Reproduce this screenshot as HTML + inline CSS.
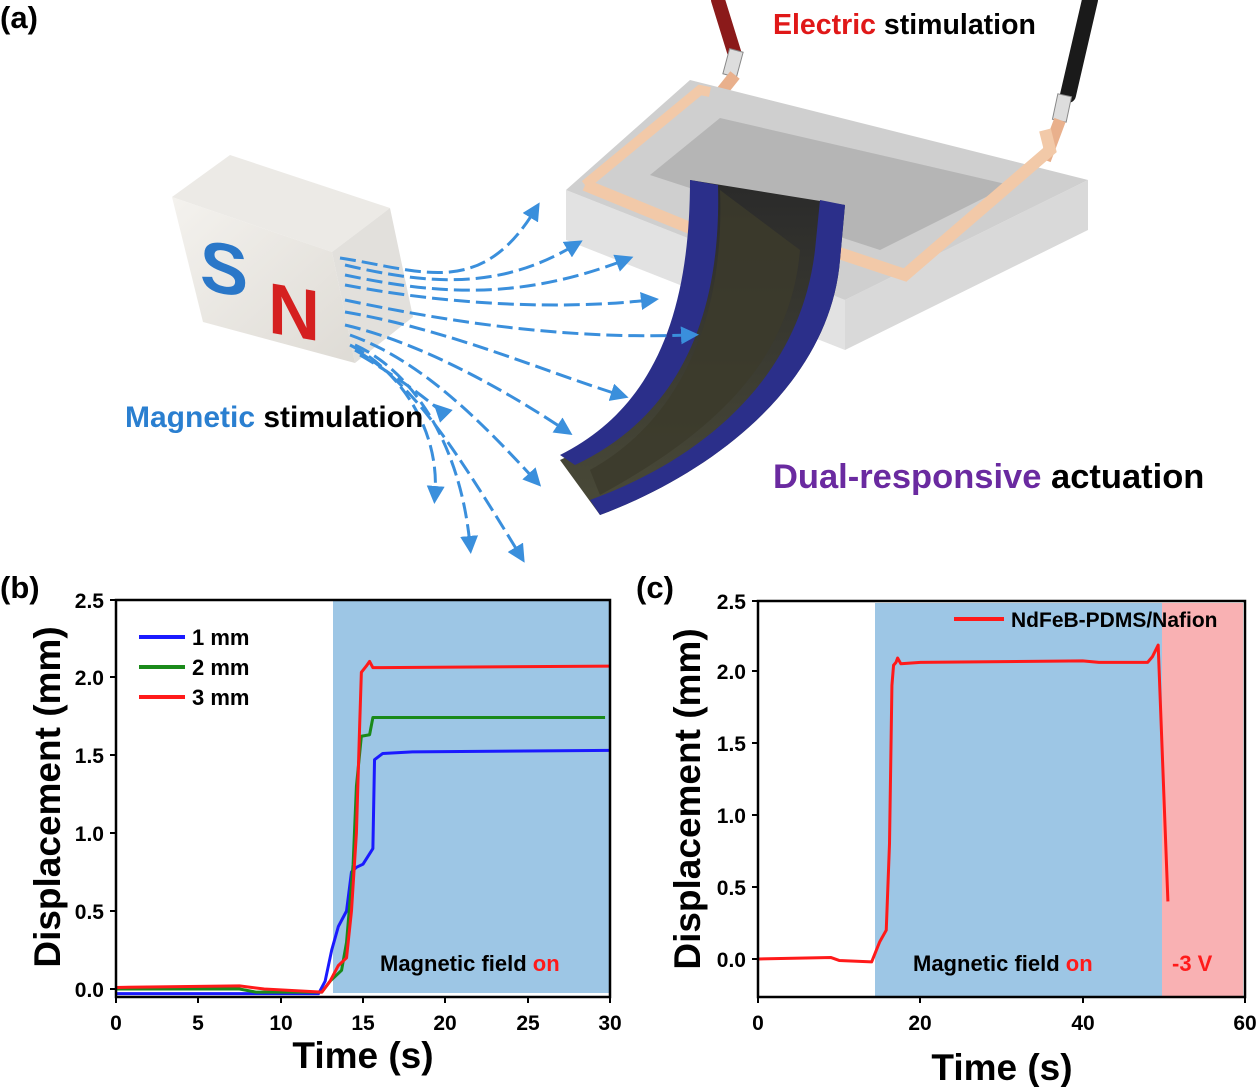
<!DOCTYPE html>
<html><head><meta charset="utf-8"><style>
html,body{margin:0;padding:0;background:#fff}
svg{display:block;font-family:"Liberation Sans",Arial,sans-serif;font-weight:bold}
</style></head><body>
<svg width="1260" height="1087" viewBox="0 0 1260 1087" xmlns="http://www.w3.org/2000/svg">
<defs>
<marker id="ah" markerWidth="6" markerHeight="6" refX="3" refY="3" orient="auto"><path d="M0,0L6,3L0,6z" fill="#3a8fdc"/></marker>
<linearGradient id="mg" x1="0" y1="0" x2="1" y2="1"><stop offset="0" stop-color="#f4f2ee"/><stop offset="1" stop-color="#dedbd5"/></linearGradient>
<linearGradient id="act" x1="0" y1="0" x2="0" y2="1"><stop offset="0" stop-color="#2a2a2a"/><stop offset="1" stop-color="#4a4a38"/></linearGradient>
</defs>
<text x="0" y="28" font-size="31">(a)</text>

<!-- wires -->
<path d="M718,0 L735,55" stroke="#8b1a1a" stroke-width="14" stroke-linecap="round"/>
<rect x="726" y="50" width="14" height="26" fill="#ddd" stroke="#888" transform="rotate(15 733 63)"/>
<path d="M735,75 L715,100" stroke="#e9b08c" stroke-width="12"/>
<path d="M1090,0 L1068,95" stroke="#1a1a1a" stroke-width="16" stroke-linecap="round"/>
<rect x="1055" y="95" width="14" height="26" fill="#ddd" stroke="#888" transform="rotate(12 1062 108)"/>
<path d="M1060,120 L1045,160" stroke="#e9b08c" stroke-width="12"/>

<!-- frame -->
<polygon points="566,190 845,300 845,350 566,240" fill="#e2e2e2"/>
<polygon points="845,300 1088,180 1088,230 845,350" fill="#d9d9d9"/>
<polygon points="566,190 690,80 1088,180 845,300" fill="#cfcfcf"/>
<polygon points="650,175 720,118 1010,185 880,250" fill="#b5b5b5"/>
<polyline points="585,185 700,90 710,92" fill="none" stroke="#f2c9a8" stroke-width="10"/>
<polyline points="585,185 690,228" fill="none" stroke="#f2c9a8" stroke-width="12"/>
<polyline points="830,250 905,275 1050,150 1045,130" fill="none" stroke="#f2c9a8" stroke-width="12"/>

<!-- actuator -->
<path d="M690,180 L845,205 L840,260 C830,380 720,470 600,515 L560,460 C650,420 690,330 700,250 Z" fill="url(#act)"/>
<path d="M690,180 L718,185 C722,330 670,420 575,465 L560,455 C650,410 690,320 690,180 Z" fill="#2b2f8a"/>
<path d="M820,200 L845,205 L840,260 C830,380 720,470 600,515 L590,500 C700,460 800,380 815,250 Z" fill="#2b2f8a"/>
<path d="M720,190 C725,320 680,420 590,470 L600,495 C700,440 790,370 800,250 Z" fill="#3c3b2c" opacity="0.85"/>

<!-- magnet -->
<polygon points="172,197 230,155 390,208 332,252" fill="#eceae6"/>
<polygon points="332,252 390,208 413,317 355,363" fill="#e2e0dc"/>
<polygon points="172,197 332,252 355,363 203,322" fill="url(#mg)"/>
<text x="200" y="292" font-size="72" fill="#2a77c8" transform="skewY(10) translate(0,-38)">S</text>
<text x="268" y="335" font-size="72" fill="#d52020" transform="skewY(10) translate(0,-50)">N</text>

<!-- field arrows -->
<g fill="none" stroke="#3a8fdc" stroke-width="3" stroke-dasharray="16 6" marker-mid="url(#ah)" marker-end="url(#ah)">
<path d="M340,258 C420,270 480,300 535,210"/>
<path d="M345,265 C430,285 500,290 575,245"/>
<path d="M345,275 C440,295 520,300 625,260"/>
<path d="M345,285 C450,305 560,310 650,300"/>
<path d="M345,300 C440,320 560,340 690,335"/>
<path d="M345,312 C450,330 540,370 620,395"/>
<path d="M345,325 C430,345 520,400 565,430"/>
<path d="M350,335 C420,360 480,420 535,480"/>
<path d="M355,345 C410,370 460,440 470,545"/>
<path d="M355,350 C410,380 450,440 520,555"/>
<path d="M350,345 C400,370 440,430 435,495"/>
<path d="M360,355 C420,390 450,420 440,410"/>
</g>

<text x="773" y="34" font-size="28.5"><tspan fill="#e01818">Electric</tspan> stimulation</text>
<text x="125" y="427" font-size="30"><tspan fill="#2a7fd0">Magnetic</tspan> stimulation</text>
<text x="773" y="488" font-size="34.5"><tspan fill="#6a2aa0">Dual-responsive</tspan> actuation</text>

<!-- (b) plot -->
<text x="0" y="598" font-size="31">(b)</text>
<rect x="333" y="601" width="276" height="392" fill="#9dc6e5"/>
<g transform="translate(116,989) scale(16.467,-156)" fill="none" stroke-width="3" stroke-linejoin="round">
<polyline vector-effect="non-scaling-stroke" stroke="#1a1aff" points="0,-0.03 12.3,-0.03 12.7,0.05 13.1,0.25 13.5,0.4 14,0.5 14.3,0.75 14.6,0.78 15,0.8 15.6,0.9 15.7,1.47 16.2,1.51 18,1.52 30,1.53"/>
<polyline vector-effect="non-scaling-stroke" stroke="#1a8a1a" points="0,0 7.5,0 8.5,-0.02 12.5,-0.02 13,0.05 13.7,0.12 14,0.3 14.4,0.8 14.6,1.3 14.9,1.62 15.4,1.63 15.6,1.74 29.7,1.74"/>
<polyline vector-effect="non-scaling-stroke" stroke="#ff1a1a" points="0,0.01 7.5,0.02 9,0 12.5,-0.02 13,0.05 13.5,0.15 14,0.2 14.3,0.5 14.6,1.0 14.8,1.7 14.9,2.03 15.2,2.07 15.4,2.1 15.6,2.06 30,2.07"/>
</g>
<rect x="116" y="600" width="494" height="397" fill="none" stroke="#000" stroke-width="2.5"/>
<g stroke="#000" stroke-width="2">
<path d="M116,997v6M198,997v6M281,997v6M363,997v6M445,997v6M528,997v6M610,997v6M110,989h6M110,911h6M110,833h6M110,755h6M110,677h6M110,600h6"/>
</g>
<g font-size="21" text-anchor="middle">
<text x="116" y="1030">0</text><text x="198" y="1030">5</text><text x="281" y="1030">10</text><text x="363" y="1030">15</text><text x="445" y="1030">20</text><text x="528" y="1030">25</text><text x="610" y="1030">30</text>
</g>
<g font-size="21" text-anchor="end">
<text x="104" y="997">0.0</text><text x="104" y="919">0.5</text><text x="104" y="841">1.0</text><text x="104" y="763">1.5</text><text x="104" y="685">2.0</text><text x="104" y="608">2.5</text>
</g>
<text x="363" y="1068" font-size="37" text-anchor="middle">Time (s)</text>
<text transform="translate(60,797) rotate(-90)" font-size="37" text-anchor="middle">Displacement (mm)</text>
<g stroke-width="4"><path d="M139,637h46" stroke="#1a1aff"/><path d="M139,667h46" stroke="#1a8a1a"/><path d="M139,697h46" stroke="#ff1a1a"/></g>
<g font-size="22"><text x="192" y="645">1 mm</text><text x="192" y="675">2 mm</text><text x="192" y="705">3 mm</text></g>
<text x="380" y="971" font-size="22">Magnetic field <tspan fill="#ff1a1a">on</tspan></text>

<!-- (c) plot -->
<text x="636" y="598" font-size="31">(c)</text>
<rect x="875" y="603" width="287" height="393" fill="#9dc6e5"/>
<rect x="1162" y="603" width="81" height="393" fill="#f9b1b3"/>
<g transform="translate(758,959) scale(8.117,-144)" fill="none" stroke-width="3" stroke-linejoin="round">
<polyline vector-effect="non-scaling-stroke" stroke="#ff1a1a" points="0,0 9,0.01 10,-0.01 14,-0.02 14.5,0.05 15,0.12 15.8,0.2 16.2,0.8 16.5,1.9 16.7,2.04 17,2.06 17.2,2.09 17.6,2.05 20,2.06 40,2.07 42,2.06 48,2.06 48.6,2.1 49.3,2.18 50.5,0.4"/>
</g>
<rect x="758" y="601" width="487" height="396" fill="none" stroke="#000" stroke-width="2.5"/>
<g stroke="#000" stroke-width="2">
<path d="M758,997v6M920,997v6M1083,997v6M1245,997v6M752,959h6M752,887h6M752,815h6M752,743h6M752,671h6M752,601h6"/>
</g>
<g font-size="21" text-anchor="middle">
<text x="758" y="1030">0</text><text x="920" y="1030">20</text><text x="1083" y="1030">40</text><text x="1245" y="1030">60</text>
</g>
<g font-size="21" text-anchor="end">
<text x="746" y="967">0.0</text><text x="746" y="895">0.5</text><text x="746" y="823">1.0</text><text x="746" y="751">1.5</text><text x="746" y="679">2.0</text><text x="746" y="609">2.5</text>
</g>
<text x="1002" y="1080" font-size="37" text-anchor="middle">Time (s)</text>
<text transform="translate(700,799) rotate(-90)" font-size="37" text-anchor="middle">Displacement (mm)</text>
<path d="M954,619h50" stroke="#ff1a1a" stroke-width="4"/>
<text x="1011" y="627" font-size="21">NdFeB-PDMS/Nafion</text>
<text x="913" y="971" font-size="22">Magnetic field <tspan fill="#ff1a1a">on</tspan></text>
<text x="1172" y="971" font-size="22" fill="#ff1a1a">-3 V</text>
</svg>
</body></html>
